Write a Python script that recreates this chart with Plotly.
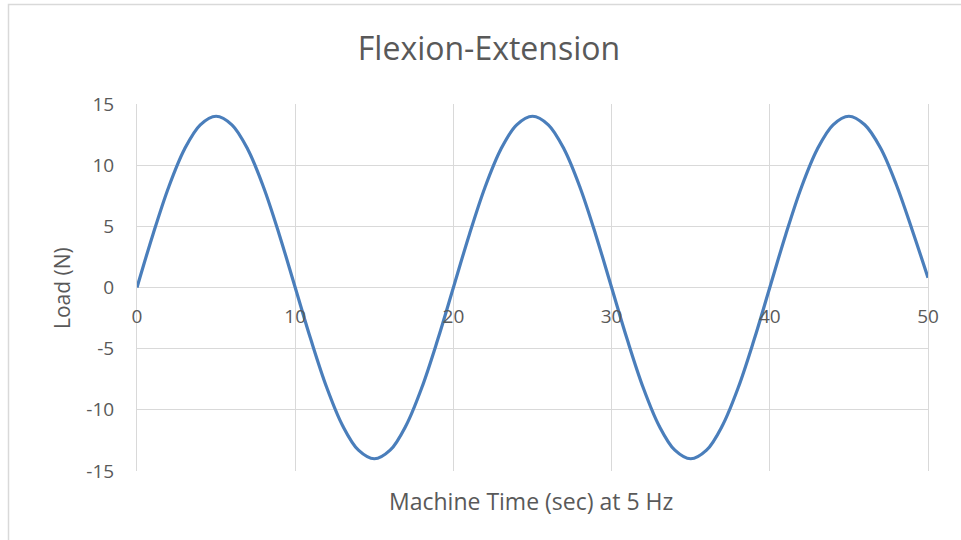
import plotly.graph_objects as go

# Load readings (N) sampled once per second of machine time
time_sec = [0, 1, 2, 3, 4, 5, 6, 7, 8, 9,
            10, 11, 12, 13, 14, 15, 16, 17, 18, 19,
            20, 21, 22, 23, 24, 25, 26, 27, 28, 29,
            30, 31, 32, 33, 34, 35, 36, 37, 38, 39,
            40, 41, 42, 43, 44, 45, 46, 47, 48, 49, 50]
load_n = [0.0, 4.3, 8.2, 11.3, 13.3, 14.0, 13.3, 11.3, 8.2, 4.3,
          0.0, -4.3, -8.2, -11.3, -13.3, -14.0, -13.3, -11.3, -8.2, -4.3,
          0.0, 4.3, 8.2, 11.3, 13.3, 14.0, 13.3, 11.3, 8.2, 4.3,
          0.0, -4.3, -8.2, -11.3, -13.3, -14.0, -13.3, -11.3, -8.2, -4.3,
          0.0, 4.3, 8.2, 11.3, 13.3, 14.0, 13.3, 11.4, 8.4, 4.7, 0.8]

x_ticks = [0, 10, 20, 30, 40, 50]
y_ticks = [-15, -10, -5, 0, 5, 10, 15]
y_tick_text = ["-15", "-10", "-5", "0", "5", "10", "15"]

W, H = 961, 540
L, R, T, B = 137, 33, 104, 69
PW, PH = W - L - R, H - T - B


def px(x):
    return (x - L) / PW


def py(y):
    return (H - B - y) / PH


TEXT = "#595959"
GRID = "#D9D9D9"
FONT = "Open Sans"

fig = go.Figure()
fig.add_trace(go.Scatter(
    x=time_sec, y=load_n, mode="lines",
    line=dict(color="#4A7EBB", width=3.2, shape="spline"),
    showlegend=False, hoverinfo="x+y",
))

fig.update_layout(
    width=W, height=H,
    margin=dict(l=L, r=R, t=T, b=B),
    paper_bgcolor="white", plot_bgcolor="white",
    font=dict(family=FONT, color=TEXT),
    title=dict(text="Flexion-Extension", x=489 / W, xanchor="center",
               y=1 - 49 / H, yanchor="middle",
               font=dict(size=32, color=TEXT, family=FONT)),
    xaxis=dict(range=[0, 50], tickvals=x_ticks, anchor="free", position=0.5,
               showgrid=True, gridcolor=GRID, gridwidth=1, zeroline=False,
               showline=False, ticks="", ticklabelstandoff=15,
               tickfont=dict(size=19, color=TEXT, family=FONT)),
    yaxis=dict(range=[-15, 15], tickvals=y_ticks, ticktext=y_tick_text,
               showgrid=True, gridcolor=GRID, gridwidth=1, zeroline=False,
               showline=True, mirror=True, linecolor=GRID, linewidth=1,
               ticks="", ticklabelstandoff=18,
               tickfont=dict(size=19, color=TEXT, family=FONT)),
    annotations=[
        dict(text="Machine Time (sec) at 5 Hz", xref="paper", yref="paper",
             x=px(531), y=py(501), xanchor="center", yanchor="middle",
             showarrow=False, font=dict(size=23, color=TEXT, family=FONT)),
        dict(text="Load (N)", xref="paper", yref="paper", textangle=-90,
             x=px(62), y=py(288), xanchor="center", yanchor="middle",
             showarrow=False, font=dict(size=21, color=TEXT, family=FONT)),
    ],
    shapes=[
        dict(type="rect", xref="paper", yref="paper",
             x0=px(8.5), y0=py(H + 20), x1=px(W + 20), y1=py(4.5),
             line=dict(color=GRID, width=1.5), fillcolor="rgba(0,0,0,0)", layer="below"),
    ],
)

fig.write_html("out.html")
